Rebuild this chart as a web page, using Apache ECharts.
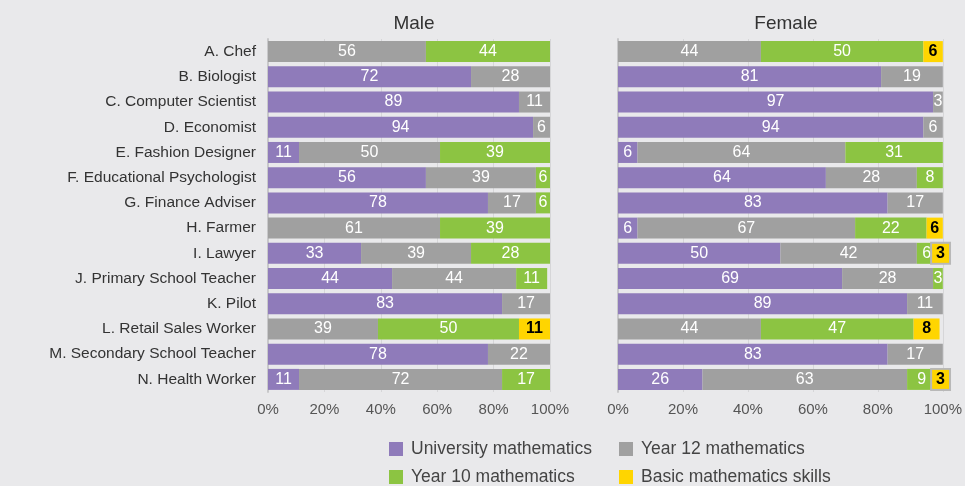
<!DOCTYPE html>
<html>
<head>
<meta charset="utf-8">
<script src="https://cdn.jsdelivr.net/npm/echarts@6/dist/echarts.min.js"></script>
<style>
  html, body { margin: 0; padding: 0; background: #e9e9eb; }
  #chart { width: 965px; height: 486px; }
</style>
</head>
<body>
<div id="chart"></div>
<script>
const careers = [
  'A. Chef', 'B. Biologist', 'C. Computer Scientist', 'D. Economist',
  'E. Fashion Designer', 'F. Educational Psychologist', 'G. Finance Adviser',
  'H. Farmer', 'I. Lawyer', 'J. Primary School Teacher', 'K. Pilot',
  'L. Retail Sales Worker', 'M. Secondary School Teacher', 'N. Health Worker'
]
const levels = ['University mathematics', 'Year 12 mathematics', 'Year 10 mathematics', 'Basic mathematics skills']
const xTicks = [0, 20, 40, 60, 80, 100]

const maleUni   = [0, 72, 89, 94, 11, 56, 78, 0, 33, 44, 83, 0, 78, 11]
const maleY12   = [56, 28, 11, 6, 50, 39, 17, 61, 39, 44, 17, 39, 22, 72]
const maleY10   = [44, 0, 0, 0, 39, 6, 6, 39, 28, 11, 0, 50, 0, 17]
const maleBasic = [0, 0, 0, 0, 0, 0, 0, 0, 0, 0, 0, 11, 0, 0]

const femaleUni   = [0, 81, 97, 94, 6, 64, 83, 6, 50, 69, 89, 0, 83, 26]
const femaleY12   = [44, 19, 3, 6, 64, 28, 17, 67, 42, 28, 11, 44, 17, 63]
const femaleY10   = [50, 0, 0, 0, 31, 8, 0, 22, 6, 3, 0, 47, 0, 9]
const femaleBasic = [6, 0, 0, 0, 0, 0, 0, 6, 3, 0, 0, 8, 0, 3]

const colors = ['#8f7bba', '#a0a0a0', '#8cc442', '#ffd500']
const font = 'Helvetica, Arial, "Liberation Sans", sans-serif'

const chart = echarts.init(document.getElementById('chart'))

const mkSeries = (name, data, idx, color, stack, basic) => ({
  name,
  type: 'bar',
  stack,
  xAxisIndex: idx,
  yAxisIndex: idx,
  barWidth: 21,
  itemStyle: { color },
  data: data.map(v => {
    const item = { value: v }
    // small basic-skills values get a boxed label sticking out on the right
    if (basic && v > 0 && v < 5) {
      item.label = {
        backgroundColor: '#ffd500',
        borderColor: '#b8b8b8',
        borderWidth: 2,
        padding: [2, 4, 1, 4],
        offset: [1, 0]
      }
    }
    return item
  }),
  label: {
    show: true,
    position: 'inside',
    color: basic ? '#000' : '#fff',
    fontWeight: basic ? 'bold' : 'normal',
    fontSize: 16,
    fontFamily: font,
    formatter: p => (p.value > 0 ? p.value : '')
  }
})

const xAxisBase = idx => ({
  type: 'value',
  gridIndex: idx,
  min: 0,
  max: 100,
  interval: 20,
  axisLine: { show: false },
  axisTick: { show: false },
  axisLabel: {
    color: '#555',
    fontSize: 15,
    fontFamily: font,
    margin: 10,
    formatter: v => (xTicks.includes(v) ? v + '%' : '')
  },
  splitLine: { show: true, lineStyle: { color: '#d6d6d8', width: 1 } }
})

const yAxisBase = (idx, showLabels) => ({
  type: 'category',
  gridIndex: idx,
  data: careers,
  inverse: true,
  axisLine: { show: true, lineStyle: { color: '#c8c8ca', width: 2 } },
  axisTick: { show: false },
  axisLabel: {
    show: showLabels,
    color: '#333',
    fontSize: 15.5,
    fontFamily: font,
    margin: 12
  }
})

const legendItem = (name, left, top) => ({
  data: [name],
  left,
  top,
  itemWidth: 14,
  itemHeight: 14,
  itemGap: 0,
  icon: 'rect',
  textStyle: { color: '#444', fontSize: 17.5, fontFamily: font, padding: [0, 0, 0, 3] }
})

chart.setOption({
  backgroundColor: '#e9e9eb',
  animation: false,
  color: colors,
  title: [
    { text: 'Male', left: 409, top: 9, textAlign: 'center',
      textStyle: { color: '#333', fontSize: 19, fontWeight: 'normal', fontFamily: font } },
    { text: 'Female', left: 781, top: 9, textAlign: 'center',
      textStyle: { color: '#333', fontSize: 19, fontWeight: 'normal', fontFamily: font } }
  ],
  legend: [
    legendItem(levels[0], 384, 435),
    legendItem(levels[1], 614, 435),
    legendItem(levels[2], 384, 463),
    legendItem(levels[3], 614, 463)
  ],
  grid: [
    { left: 268, right: 415, top: 39, bottom: 94 },
    { left: 618, right: 19, top: 39, bottom: 94 }
  ],
  xAxis: [xAxisBase(0), xAxisBase(1)],
  yAxis: [yAxisBase(0, true), yAxisBase(1, false)],
  series: [
    mkSeries(levels[0], maleUni, 0, colors[0], 'male'),
    mkSeries(levels[1], maleY12, 0, colors[1], 'male'),
    mkSeries(levels[2], maleY10, 0, colors[2], 'male'),
    mkSeries(levels[3], maleBasic, 0, colors[3], 'male', true),
    mkSeries(levels[0], femaleUni, 1, colors[0], 'female'),
    mkSeries(levels[1], femaleY12, 1, colors[1], 'female'),
    mkSeries(levels[2], femaleY10, 1, colors[2], 'female'),
    mkSeries(levels[3], femaleBasic, 1, colors[3], 'female', true)
  ]
})

window.addEventListener('resize', () => chart.resize())
</script>
</body>
</html>
